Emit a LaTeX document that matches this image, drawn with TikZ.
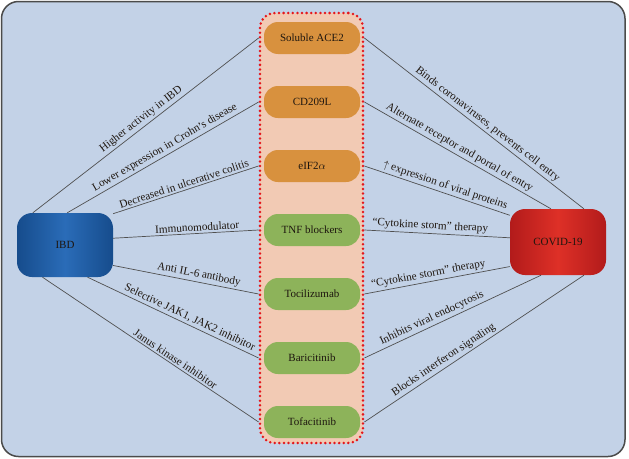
\documentclass[tikz,border=0pt]{standalone}
\usepackage{fontspec}
\setmainfont{Liberation Serif}
\usepackage{tikz}
\usetikzlibrary{positioning}
\definecolor{bgblue}{RGB}{195,210,231}
\definecolor{framegray}{RGB}{75,75,75}
\definecolor{panelpink}{RGB}{242,202,180}
\definecolor{dotred}{RGB}{228,22,28}
\definecolor{geneorange}{RGB}{216,145,62}
\definecolor{medgreen}{RGB}{141,179,90}
\definecolor{linegray}{RGB}{80,80,80}
\definecolor{txtdark}{RGB}{30,22,15}
\definecolor{ibdedge}{RGB}{22,76,140}
\definecolor{ibdmid}{RGB}{42,108,184}
\definecolor{covedge}{RGB}{178,27,27}
\definecolor{covmid}{RGB}{222,48,39}

\tikzset{
  panel/.style={rectangle, rounded corners=15pt, fill=panelpink, draw=dotred,
    line width=2.8pt, line cap=round, dash pattern=on 0pt off 4.6pt,
    minimum width=103pt, minimum height=430pt, inner sep=0pt},
  drug/.style={rectangle, rounded corners=14pt, minimum width=96pt,
    minimum height=32pt, inner sep=0pt, text=txtdark,
    font=\fontsize{11}{13}\selectfont},
  gene/.style={drug, fill=geneorange},
  med/.style={drug, fill=medgreen},
  hub/.style={rectangle, rounded corners=15pt, minimum width=96pt,
    inner sep=0pt, text=txtdark, font=\fontsize{11}{13}\selectfont},
  link/.style={draw=linegray, line width=0.7pt},
  lbl/.style={sloped, above, inner sep=2pt, text=txtdark,
    font=\fontsize{11.2}{13}\selectfont}
}

\begin{document}
\begin{tikzpicture}[x=1pt, y=-1pt]

        \useasboundingbox (0,0) rectangle (629,458);
        \draw[framegray, line width=1.5pt, fill=bgblue, rounded corners=17pt] (1.5,1.5) rectangle (625,456.5);

        \node[panel] (grp) at (311.5,228) {};

        \node[gene] (ace) at (312,38) {Soluble ACE2};
        \node[gene] (cd) at (312,102) {CD209L};
        \node[gene] (eif) at (312,166) {eIF2$\alpha$};
        \node[med] (tnf) at (312,230) {TNF blockers};
        \node[med] (toci) at (312,294) {Tocilizumab};
        \node[med] (bari) at (312,358) {Baricitinib};
        \node[med] (tofa) at (312,422) {Tofacitinib};

        \node[hub, minimum height=64pt, left color=ibdedge, right color=ibdedge, middle color=ibdmid] (ibd) at (65,245) {IBD};
        \node[hub, minimum height=66pt, left color=covedge, right color=covedge, middle color=covmid] (cov) at (558,242) {COVID-19};

        \draw[link] (ibd.135) -- node[lbl, pos=.5] {Higher activity in IBD} (grp.west |- ace);
        \draw[link] (ibd.86) -- node[lbl, pos=.53] {Lower expression in Crohn's disease} (grp.west |- cd);
        \draw[link] (ibd.33) -- node[lbl, pos=.5] {Decreased in ulcerative colitis} (grp.west |- eif);
        \draw[link] (ibd.8) -- node[lbl, pos=.58] {Immunomodulator} (grp.west |- tnf);
        \draw[link] (ibd.-23) -- node[lbl, pos=.58] {Anti IL-6 antibody} (grp.west |- toci);
        \draw[link] (ibd.-55) -- node[lbl, pos=.58] {Selective JAK1, JAK2 inhibitor} (grp.west |- bari);
        \draw[link] (ibd.-125) -- node[lbl, pos=.6] {Janus kinase inhibitor} (grp.west |- tofa);

        \draw[link] (grp.east |- ace) -- node[lbl, pos=.54] {Binds coronaviruses, prevents cell entry} (cov.52);
        \draw[link] (grp.east |- cd) -- node[lbl, pos=.49] {Alternate receptor and portal of entry} (cov.102);
        \draw[link] (grp.east |- eif) -- node[lbl, pos=.54] {$\uparrow$ expression of viral proteins} (cov.151);
        \draw[link] (grp.east |- tnf) -- node[lbl, pos=.45] {``Cytokine storm'' therapy} (cov.175);
        \draw[link] (grp.east |- toci) -- node[lbl, pos=.45] {``Cytokine storm'' therapy} (cov.207);
        \draw[link] (grp.east |- bari) -- node[lbl, pos=.4] {Inhibits viral endocytosis} (cov.243);
        \draw[link] (grp.east |- tofa) -- node[lbl, pos=.38] {Blocks interferon signaling} (cov.308);

\end{tikzpicture}
\end{document}
